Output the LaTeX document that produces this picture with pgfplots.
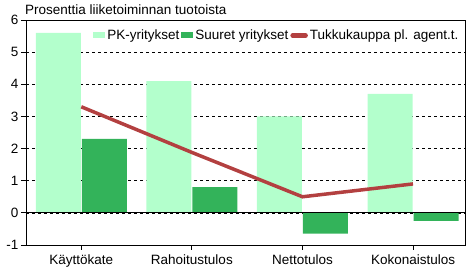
\documentclass[border=0pt]{standalone}
\usepackage{pgfplots}
\pgfplotsset{compat=1.18}
\usepackage{fontspec}
\setmainfont{Liberation Sans}
\definecolor{pk}{HTML}{B3FFCC}
\definecolor{su}{HTML}{33B35A}
\definecolor{tk}{HTML}{B34040}
\begin{document}
\begin{tikzpicture}
\useasboundingbox (0,0) rectangle (467pt,270pt);
\begin{axis}[
  at={(26pt,25pt)}, anchor=south west,
  scale only axis, width=439pt, height=225pt,
  xmin=-0.5, xmax=3.47, ymin=-1, ymax=6,
  xtick={0,1,2,3},
  xticklabels={Käyttökate,Rahoitustulos,Nettotulos,Kokonaistulos},
  ytick={-1,0,1,2,3,4,5,6},
  yticklabels={-1,0,1,2,3,4,5,6},
  tick align=outside, major tick length=5pt,
  xtick pos=bottom, ytick pos=left,
  ymajorgrids, grid style={dashed, black, line width=0.5pt},
  axis line style={black, line width=0.8pt},
  tick style={black, line width=0.8pt},
  ticklabel style={font=\fontsize{13.5}{15}\selectfont},
  yticklabel style={xshift=1pt},
  xticklabel style={yshift=-1pt},
  legend style={at={(0.997,0.975)}, anchor=north east, draw=none, fill=none,
    font=\fontsize{13.5}{15}\selectfont, legend columns=3,
    /tikz/every even column/.append style={column sep=0pt}},
  legend cell align=left,
]
\addplot[ybar, bar width=45pt, bar shift=-23pt, fill=pk, draw=none,
  area legend, legend image code/.code={\fill[pk] (0pt,-3pt) rectangle (12pt,3pt);}]
  coordinates {(0,5.6) (1,4.1) (2,3.0) (3,3.7)};
\addlegendentry{PK-yritykset}
\addplot[ybar, bar width=45pt, bar shift=23pt, fill=su, draw=none,
  area legend, legend image code/.code={\fill[su] (0pt,-3pt) rectangle (12pt,3pt);}]
  coordinates {(0,2.3) (1,0.8) (2,-0.65) (3,-0.25)};
\addlegendentry{Suuret yritykset}
\addplot[black, line width=0.8pt, forget plot] coordinates {(-0.5,0) (3.47,0)};
\addplot[tk, line width=3.5pt, mark=none,
  legend image code/.code={\draw[tk, line width=4.5pt, line cap=round] (1pt,0pt) -- (14pt,0pt);}]
  coordinates {(0,3.3) (1,1.88) (2,0.5) (3,0.9)};
\addlegendentry{Tukkukauppa pl. agent.t.}
\end{axis}
\node[anchor=base west, inner sep=0pt, font=\fontsize{13.5}{15}\selectfont] at (25pt,255pt) {Prosenttia liiketoiminnan tuotoista};
\end{tikzpicture}
\end{document}
